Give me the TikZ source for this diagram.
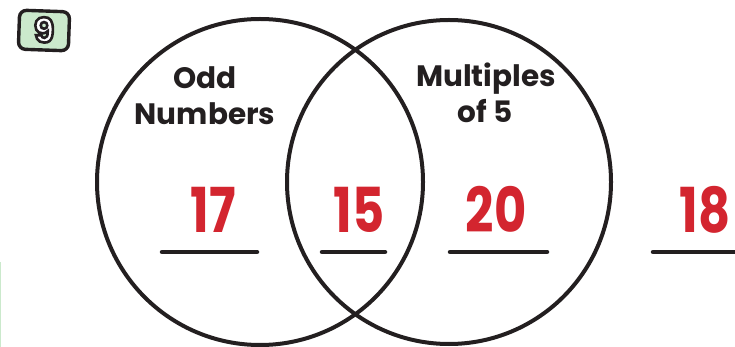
\documentclass[tikz,border=0pt]{standalone}
\usepackage{fontspec}
\setmainfont{Poppins}
\definecolor{ink}{HTML}{231F20}
\definecolor{redans}{HTML}{D3252F}
\definecolor{mint}{HTML}{CBE9CC}
\newcommand{\outlinedtext}[1]{\special{pdf:code q 2 Tr 2.6 w 0.14 0.12 0.13 RG 1 1 1 rg}#1\special{pdf:code Q}}
\tikzset{
  setring/.style={draw=ink, line width=4pt},
  label/.style={anchor=base, font=\fontsize{29.5}{30}\selectfont\bfseries, text=ink, inner sep=0pt},
  answer/.style={anchor=base, font=\fontsize{62}{62}\selectfont\bfseries, text=redans, inner sep=0pt},
  blank/.style={draw=ink, line width=4.5pt, line cap=round},
}
\begin{document}
\begin{tikzpicture}[x=1pt,y=-1pt]
\useasboundingbox (0,0) rectangle (735,347);
% faint edge line
\draw[mint, line width=1.2pt] (0.6,262) -- (0.6,347);
% badge
\draw[ink, fill=mint, line width=3.4pt, rounded corners=7pt, rotate around={-2:(44,30)}] (19,11) rectangle (69,50);
\node[anchor=base, font=\fontsize{34}{34}\selectfont\bfseries, text=white, inner sep=0pt] (badge) at (44,42.5) {\outlinedtext{9}};
% sets
\draw[setring] (260,182) circle (163);
\draw[setring] (449,182) circle (162);
% labels
\node[label] (odd) at (205,89) {Odd};
\node[label] (numbers) at (205,125) {Numbers};
\node[label] (mult) at (486,87) {Multiples};
\node[label] (of5) at (485,123) {of 5};
% answers
\node[answer] (a17) at (213,232) {\scalebox{0.8}[1]{17}};
\node[answer] (a15) at (359,232) {\scalebox{0.8}[1]{15}};
\node[answer] (a20) at (496,232) {\scalebox{0.8}[1]{20}};
\node[answer] (a18) at (705,232) {\scalebox{0.8}[1]{18}};
% blanks
\draw[blank] (162,252) -- (257,252);
\draw[blank] (322,252) -- (385,252);
\draw[blank] (450,252) -- (547,252);
\draw[blank] (653,252) -- (738,252);
\end{tikzpicture}
\end{document}
